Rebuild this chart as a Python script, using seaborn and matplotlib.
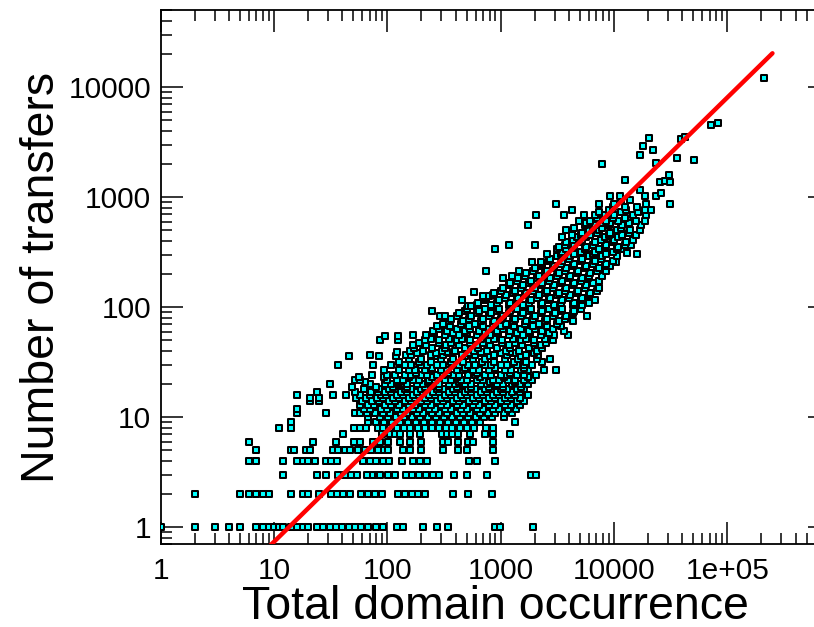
import numpy as np
import pandas as pd
import matplotlib
matplotlib.use("Agg")
import matplotlib.pyplot as plt
import seaborn as sns
from matplotlib.ticker import FixedLocator, FixedFormatter, LogLocator, NullFormatter

# Number of transfers (y) and the total domain occurrences (x) seen at each count
transfer_levels = [
    1, 2, 3, 4, 5, 6, 7, 8, 9, 10,
    11, 12, 13, 14, 15, 16, 17, 18, 19, 20,
    21, 22, 23, 24, 25, 27, 28, 30, 32, 34,
    36, 37, 38, 39, 40, 43, 45, 47, 50, 52,
    55, 56, 58, 61, 64, 68, 71, 75, 79, 84,
    88, 92, 97, 103, 104, 109, 116, 122, 126, 128,
    135, 138, 142, 150, 158, 166, 175, 183, 194, 204,
    215, 226, 238, 250, 260, 263, 276, 290, 305, 310,
    320, 338, 355, 372, 390, 410, 432, 454, 478, 504,
    530, 560, 585, 610, 650, 690, 730, 766, 820, 870,
    950, 1030, 1100, 1160,
]

occurrence_by_level = [
    [1, 2, 3, 4, 5, 7, 8, 9, 10, 11, 12, 14, 16, 18, 20, 24, 27, 31, 35, 40, 46, 52, 59, 68, 80, 92,
     121, 138, 207, 272, 340, 889, 984, 1935],
    [2, 5, 6, 7, 8, 9, 14, 18, 20, 25, 32, 36, 41, 47, 59, 68, 78, 89, 125, 143, 164, 187, 215, 377, 517, 841],
    [12, 24, 29, 37, 42, 48, 54, 66, 75, 83, 86, 102, 117, 146, 166, 191, 219, 251, 287, 387, 507, 751, 1835, 2044],
    [6, 7, 12, 16, 18, 20, 23, 29, 32, 36, 61, 70, 80, 92, 104, 136, 169, 194, 222, 527, 613, 889],
    [7, 14, 15, 19, 21, 33, 37, 42, 47, 55, 63, 72, 82, 94, 102, 138, 158, 198, 311, 422, 500, 849],
    [6, 22, 35, 51, 58, 75, 86, 102, 130, 158, 198, 311, 344, 422, 517, 572, 849],
    [41, 89, 105, 117, 129, 158, 194, 301, 333, 369, 422, 535, 726, 859, 1205],
    [11, 14, 51, 57, 65, 82, 91, 105, 121, 140, 160, 186, 214, 247, 285, 327, 376, 437, 504, 580, 750, 850],
    [14, 68, 79, 93, 110, 129, 152, 179, 210, 247, 291, 342, 403, 474, 557, 655, 1334],
    [68, 86, 101, 119, 140, 165, 194, 228, 268, 316, 371, 437, 514, 604, 711, 836, 1067],
    [16, 29, 52, 58, 66, 78, 92, 106, 131, 150, 183, 205, 250, 287, 335, 410, 470, 540, 660, 780, 890, 1080, 1255],
    [16, 62, 71, 88, 99, 122, 137, 168, 190, 232, 262, 320, 365, 445, 505, 615, 700, 850, 970, 1170, 1361],
    [57, 68, 77, 95, 108, 126, 156, 175, 214, 243, 296, 336, 410, 467, 565, 645, 785, 890, 1085, 1240, 1476],
    [21, 25, 60, 74, 84, 103, 117, 143, 162, 198, 224, 272, 310, 378, 430, 522, 595, 722, 825, 1000, 1140, 1380, 1602],
    [21, 25, 53, 65, 81, 91, 113, 126, 155, 176, 214, 242, 297, 336, 410, 465, 568, 645, 783, 895, 1085, 1240, 1476],
    [16, 33, 43, 58, 71, 88, 98, 121, 137, 168, 190, 233, 262, 322, 365, 444, 505, 615, 700, 850, 970, 1170, 1350, 1737],
    [24, 52, 72, 82, 95, 107, 131, 149, 182, 206, 252, 286, 348, 396, 482, 548, 665, 760, 920, 1050, 1270, 1476],
    [62, 84, 103, 116, 143, 162, 198, 222, 274, 310, 378, 430, 520, 596, 722, 825, 1000, 1140, 1380, 1602],
    [49, 79, 113, 150, 214, 286, 410, 548, 783, 1050, 1500],
    [31, 71, 95, 108, 131, 149, 182, 206, 252, 287, 348, 396, 482, 548, 665, 760, 920, 1050, 1270, 1476, 1737],
    [64, 126, 230, 430, 800, 1350],
    [52, 57, 99, 121, 137, 168, 190, 233, 262, 322, 365, 444, 505, 615, 700, 850, 970, 1170, 1350, 1620, 1884],
    [56, 93, 155, 250, 410, 660, 1080, 1737],
    [73, 100, 117, 143, 162, 198, 222, 274, 310, 378, 430, 520, 596, 722, 825, 1000, 1140, 1380, 1602, 2044],
    [180, 340, 620, 1200],
    [93, 126, 155, 176, 214, 242, 297, 336, 410, 465, 568, 645, 783, 895, 1085, 1240, 1500, 1737, 2404, 3100],
    [250, 480, 900, 1600],
    [37, 75, 108, 143, 162, 198, 222, 274, 310, 378, 430, 520, 596, 722, 825, 1000, 1140, 1380, 1602, 1884],
    [128, 190, 245, 362, 470, 690, 880, 1310, 1690, 2300],
    [156, 199, 298, 383, 565, 735, 1090, 1420, 2080, 2740],
    [46, 85, 119, 262, 488, 812, 1520],
    [71, 146, 163, 241, 312, 459, 598, 877, 1130, 1670, 2150],
    [184, 271, 352, 522, 680, 1005, 1310, 1950],
    [122, 335, 672, 1220],
    [160, 207, 306, 397, 586, 760, 1120, 1455, 2110],
    [171, 250, 325, 480, 625, 925, 1200, 1790, 2330],
    [170, 221, 327, 425, 623, 810, 1195, 1550, 2290],
    [192, 283, 366, 537, 700, 1032, 1340, 1960, 2530],
    [86, 125, 216, 283, 415, 540, 795, 1035, 1520, 1985, 2910],
    [243, 351, 458, 670, 875, 1290, 1690, 2480],
    [95, 125],
    [169, 221, 326, 425, 622, 812, 1190, 1560, 2280, 2980, 3914],
    [260, 382, 500, 732, 957, 1400, 1830, 2690],
    [254, 333, 488, 638, 933, 1220, 1790, 2340, 3609],
    [283, 415, 542, 795, 1040, 1520, 1990, 2910],
    [276, 361, 529, 692, 1013, 1320, 1940, 2540, 3420],
    [307, 450, 588, 860, 1125, 1650, 2160, 3160],
    [352, 461, 674, 882, 1290, 1690, 2475, 3240, 4370],
    [362, 528, 692, 1012, 1325, 1940, 2540, 3710],
    [291, 320, 414, 543, 793, 1040, 1520, 1990, 2910, 3810, 5800],
    [425, 621, 814, 1190, 1560, 2280, 2990, 4370],
    [247, 487, 638, 933, 1220, 1790, 2340, 3420, 4480],
    [500, 731, 958, 1400, 1835, 2680, 3510, 5130],
    [514, 545],
    [621, 814, 1190, 1560, 2280, 2985, 4370, 5270],
    [637, 933, 1220, 1790, 2340, 3420, 4480, 6050],
    [455, 731, 958, 1400, 1835, 2685, 3510, 5140, 6730],
    [750, 1098, 1437, 2100, 2750, 4030, 5270],
    [700, 790],
    [860, 1125, 1650, 2160, 3160, 4130, 6050],
    [882, 1290, 1690, 2475, 3240, 4740, 6200],
    [577],
    [1012, 1325, 1940, 2540, 3710, 4860, 7110],
    [1040, 1520, 1990, 2910, 3810, 5570, 7300],
    [1190, 1560, 2280, 2985, 4370, 5720],
    [1220, 1790, 2340, 3420, 4480, 6550],
    [1400, 1835, 2685, 3510, 5140, 7300],
    [1050, 1437, 2100, 2750, 4030, 5270, 5900],
    [1250, 1650, 2160, 3160, 4130, 6050, 7900],
    [1690, 2475, 3240, 4740, 6200],
    [740, 1450, 1940, 2540, 3710, 4860, 7110, 8570],
    [1990, 2910, 3810, 5570, 7300],
    [2280, 2985, 4370, 5720, 8370, 9300],
    [2340, 3420, 4480, 6550, 8570],
    [1900, 2250, 10400],
    [2685, 3510, 5140, 6730, 9830],
    [2750, 4030, 5270, 7710],
    [3160, 4130, 6050, 7900, 10700],
    [2540, 3420, 4480, 6550, 8570, 15800],
    [13000],
    [3510, 5140, 6730, 9830],
    [900, 3160, 3810, 5570, 7300, 10700, 11600],
    [3240, 4370, 5720, 8370, 10950],
    [1180, 1990, 3710, 4480, 6550, 8570, 12550, 14100],
    [3810, 5140, 6730, 9830, 12870],
    [4370, 5270, 7710, 10100, 14770],
    [3510, 4740, 5720, 8370, 10950],
    [4300, 5140, 6200, 9070, 11870, 15570],
    [5270, 7110, 9300, 13600],
    [3810, 6050, 7300, 10700, 13970, 16887],
    [4480, 6550, 7900, 11600],
    [1740, 5570, 6730, 9070, 11870, 17400],
    [5720, 7710, 9300, 13600],
    [4890, 6200, 8500, 10950, 15570, 18800],
    [7110, 9830, 12550],
    [2030, 3610, 5450, 6780, 8370, 10100, 14770, 19300],
    [7300, 11600, 16400],
    [4300, 9070, 12870, 18800, 21000],
    [9830, 12550, 16000],
    [3070, 7300, 10100, 19000, 31000],
    [11600, 13970],
    [9180, 11250, 18800, 23400],
    [26200],
    [17100],
]

# Most abundant domains, plotted individually
top_occurrence = [12600, 25300, 28000, 31500, 30600, 7760, 23400, 50800, 35600, 16900,
                  22100, 18100, 20300, 39400, 42000, 71400, 82800, 209000]
top_transfers = [1440, 1380, 1410, 1380, 1590, 2000, 2060, 2180, 2290, 2430,
                 2690, 2940, 3480, 3390, 3510, 4540, 4710, 12200]

# Power-law fit: transfers = fit_coef * occurrence ** fit_slope
fit_coef = 0.072
fit_slope = 1.01
fit_range = [1.0, 2.5e5]

x_ticks = [1, 10, 100, 1000, 10000, 100000]
x_tick_labels = ["1", "10", "100", "1000", "10000", "1e+05"]
y_ticks = [1, 10, 100, 1000, 10000]
y_tick_labels = ["1", "10", "100", "1000", "10000"]

xs, ys = [], []
for level, occ in zip(transfer_levels, occurrence_by_level):
    xs.extend(occ)
    ys.extend([level] * len(occ))
xs.extend(top_occurrence)
ys.extend(top_transfers)
df = pd.DataFrame({"occurrence": xs, "transfers": ys})

fit_x = np.array(fit_range)
fit_y = fit_coef * fit_x ** fit_slope

sns.set_style("ticks")
plt.rcParams["font.family"] = ["Liberation Sans", "DejaVu Sans"]
plt.rcParams["text.color"] = "black"
plt.rcParams["axes.labelcolor"] = "black"
plt.rcParams["xtick.color"] = "black"
plt.rcParams["ytick.color"] = "black"

fig = plt.figure(figsize=(8.14, 6.27), dpi=100)
ax = fig.add_axes([0.1973, 0.1319, 0.8220, 0.8515])

sns.scatterplot(data=df, x="occurrence", y="transfers", marker="s", s=18,
                color="#00ffff", edgecolor="black", linewidth=1.45, ax=ax,
                legend=False, zorder=3)
sns.lineplot(x=fit_x, y=fit_y, color="red", linewidth=3.2, ax=ax, zorder=5,
             sort=True, estimator=None)

ax.set_xscale("log")
ax.set_yscale("log")
ax.set_xlim(1, 8e5)
ax.set_ylim(0.7, 5e4)

ax.xaxis.set_major_locator(FixedLocator(x_ticks))
ax.xaxis.set_major_formatter(FixedFormatter(x_tick_labels))
ax.yaxis.set_major_locator(FixedLocator(y_ticks))
ax.yaxis.set_major_formatter(FixedFormatter(y_tick_labels))
ax.xaxis.set_minor_locator(LogLocator(base=10, subs=np.arange(2, 10), numticks=30))
ax.yaxis.set_minor_locator(LogLocator(base=10, subs=np.arange(2, 10), numticks=30))
ax.xaxis.set_minor_formatter(NullFormatter())
ax.yaxis.set_minor_formatter(NullFormatter())

ax.tick_params(which="both", direction="in", top=True, right=True, width=1.1,
               color="black", labelcolor="black", labelsize=21.5)
ax.tick_params(which="major", length=15.6)
ax.tick_params(which="minor", length=7.9)
ax.tick_params(axis="x", which="major", pad=9)
ax.tick_params(axis="y", which="major", pad=7)

for side in ax.spines.values():
    side.set_linewidth(1.3)
    side.set_color("black")

ax.set_xlabel("Total domain occurrence", fontsize=33.5, labelpad=0, color="black")
ax.set_ylabel("Number of transfers", fontsize=33.5, labelpad=3, color="black")

fig.savefig("out.png", dpi=100)
